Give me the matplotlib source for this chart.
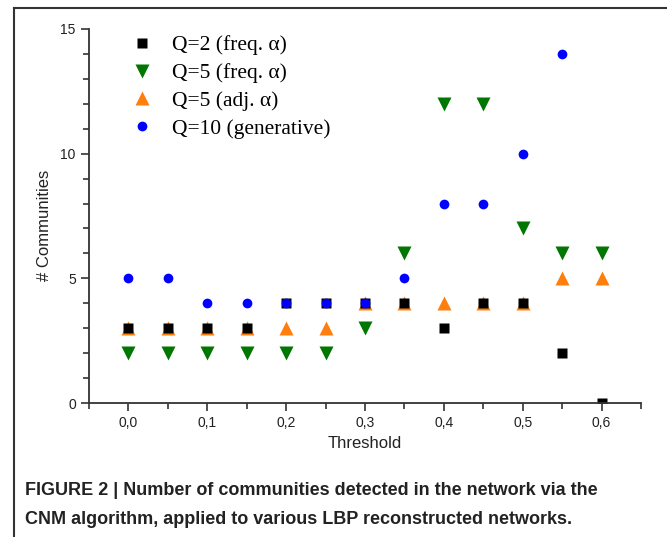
import matplotlib.pyplot as plt
from matplotlib.ticker import MultipleLocator, FuncFormatter

threshold = [0.0, 0.05, 0.1, 0.15, 0.2, 0.25, 0.3, 0.35, 0.4, 0.45, 0.5, 0.55, 0.6]
q2_freq = [3, 3, 3, 3, 4, 4, 4, 4, 3, 4, 4, 2, 0]
q5_freq = [2, 2, 2, 2, 2, 2, 3, 6, 12, 12, 7, 6, 6]
q5_adj = [3, 3, 3, 3, 3, 3, 4, 4, 4, 4, 4, 5, 5]
q10_gen = [5, 5, 4, 4, 4, 4, 4, 5, 8, 8, 10, 14]

fig = plt.figure(figsize=(6.67, 5.37), dpi=100)
ax = fig.add_axes([0.1334, 0.2495, 0.8276, 0.6965])

h_adj, = ax.plot(threshold, q5_adj, '^', color='#ff7f0e', ms=10, mec='none', label='Q=5 (adj. α)')
h_freq5, = ax.plot(threshold, q5_freq, 'v', color='#007700', ms=10, mec='none', label='Q=5 (freq. α)')
h_q2, = ax.plot(threshold, q2_freq, 's', color='black', ms=6.5, mec='none', label='Q=2 (freq. α)')
h_gen, = ax.plot(threshold[:len(q10_gen)], q10_gen, 'o', color='#0000ff', ms=7, mec='none',
                 label='Q=10 (generative)')

ax.set_xlim(-0.05, 0.65)
ax.set_ylim(0, 15)
ax.xaxis.set_major_locator(MultipleLocator(0.1))
ax.xaxis.set_minor_locator(MultipleLocator(0.05))
ax.yaxis.set_major_locator(MultipleLocator(5))
ax.yaxis.set_minor_locator(MultipleLocator(1))
ax.xaxis.set_major_formatter(FuncFormatter(lambda v, p: ('%.1f' % v).replace('.', ',')))

for s in ['top', 'right']:
    ax.spines[s].set_visible(False)
for s in ['left', 'bottom']:
    ax.spines[s].set_linewidth(1.3)
    ax.spines[s].set_color('#333333')
ax.tick_params(which='major', direction='out', length=6, width=1.2, color='#333333',
               labelsize=10, labelcolor='#222222')
ax.tick_params(which='minor', direction='out', length=4, width=1.2, color='#333333')
for lab in ax.get_xticklabels() + ax.get_yticklabels():
    lab.set_family('Liberation Sans')

ax.set_xlabel('Threshold', family='Liberation Sans', fontsize=12, color='#222222', labelpad=4)
ax.set_ylabel('# Communities', family='Liberation Sans', fontsize=12, color='#222222')
ax.yaxis.set_label_coords(-0.067, 0.476)

leg = ax.legend(handles=[h_q2, h_freq5, h_adj, h_gen], loc='upper left',
                bbox_to_anchor=(0.041, 1.035), frameon=False,
                prop={'family': 'Liberation Serif', 'size': 15.5},
                handlelength=1.0, handletextpad=0.9, labelspacing=0.36)

caption_lines = ['FIGURE 2 | Number of communities detected in the network via the',
                 'CNM algorithm, applied to various LBP reconstructed networks.']
for line, yy in zip(caption_lines, [0.0782, 0.0242]):
    fig.text(0.038, yy, line, family='Liberation Sans', fontweight='bold',
             fontsize=13, color='#222222', va='baseline')

# outer frame (left and top edges)
fig.add_artist(plt.Line2D([0.021, 0.021], [0.0, 0.985], color='#333333', lw=1.5))
fig.add_artist(plt.Line2D([0.021, 1.0], [0.985, 0.985], color='#333333', lw=1.5))

fig.savefig('out.png', dpi=100)
